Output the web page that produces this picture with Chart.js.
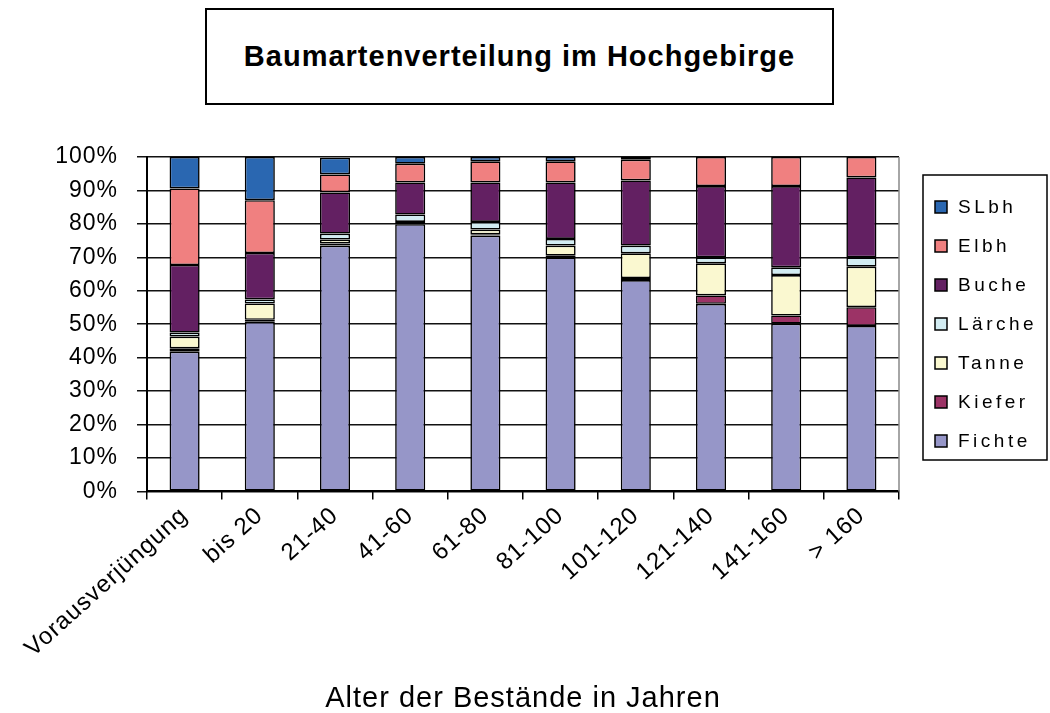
<!DOCTYPE html>
<html>
<head>
<meta charset="utf-8">
<script src="https://cdn.jsdelivr.net/npm/chart.js@4.4.1/dist/chart.umd.min.js"></script>
<style>
  body { margin: 0; background: #fff; }
  #wrap { position: relative; width: 1050px; height: 713px; }
  #titleBox {
    position: absolute; left: 205px; top: 8px; width: 625px; height: 93px;
    border: 2px solid #000; background: #fff;
    font: bold 29px "Liberation Sans", Arial, sans-serif; letter-spacing: 1px;
    display: flex; align-items: center; justify-content: center;
  }
</style>
</head>
<body>
<div id="wrap">
  <canvas id="myChart" width="1050" height="713"></canvas>
  <div id="titleBox">Baumartenverteilung im Hochgebirge</div>
</div>
<script>
// categories (age classes)
const ageClasses = ['Vorausverjüngung', 'bis 20', '21-40', '41-60', '61-80', '81-100', '101-120', '121-140', '141-160', '> 160']

// shares in percent
const fichte = [41.8, 50.7, 73.5, 79.9, 76.5, 70.0, 63.2, 56.1, 50.2, 49.5]
const kiefer = [1.0, 0.6, 0.6, 0.4, 0.4, 0.5, 0.6, 2.5, 2.4, 5.6]
const tanne  = [3.5, 4.9, 1.2, 0.3, 1.4, 3.0, 7.4, 9.6, 12.1, 12.1]
const laerche = [1.2, 1.2, 1.8, 2.2, 2.3, 2.0, 2.3, 1.8, 2.3, 2.8]
const buche  = [20.2, 13.9, 12.3, 9.6, 11.8, 16.9, 19.5, 21.3, 24.3, 23.9]
const elbh   = [22.9, 15.8, 5.4, 5.6, 6.3, 6.3, 6.2, 8.7, 8.7, 6.1]
const slbh   = [9.4, 12.9, 5.0, 2.0, 1.3, 1.3, 0.8, 0, 0, 0]

const yTicks = [0, 10, 20, 30, 40, 50, 60, 70, 80, 90, 100]

const fontFam = '"Liberation Sans", Arial, sans-serif'

const makeSet = (label, data, color) => ({
	label: label,
	data: data,
	backgroundColor: color,
	borderColor: '#000',
	borderWidth: 1.6,
	borderSkipped: false,
	categoryPercentage: 1,
	barPercentage: 0.4
})

let data = {
	labels: ageClasses,
	datasets: [
		makeSet('Fichte', fichte, '#9696c8'),
		makeSet('Kiefer', kiefer, '#9c3366'),
		makeSet('Tanne', tanne, '#faf8d0'),
		makeSet('Lärche', laerche, '#d2ecf2'),
		makeSet('Buche', buche, '#632062'),
		makeSet('Elbh', elbh, '#f08080'),
		makeSet('SLbh', slbh, '#2a67b1')
	]
}

// the old chart's text is set a bit wide
const spacingPlugin = {
	id: 'spacing',
	beforeUpdate(chart) { chart.ctx.letterSpacing = '1px' },
	beforeDraw(chart) { chart.ctx.letterSpacing = '1px' }
}

// legend in a framed box, plus right edge of the plot
const legendPlugin = {
	id: 'boxLegend',
	afterDraw(chart) {
		const c = chart.ctx
		const area = chart.chartArea
		c.save()
		c.strokeStyle = '#888'
		c.lineWidth = 1.5
		c.beginPath()
		c.moveTo(area.right, area.top)
		c.lineTo(area.right, area.bottom)
		c.stroke()

		const bx = area.right + 24, by = 175, bw = 124, bh = 285
		c.strokeStyle = '#000'
		c.lineWidth = 1.5
		c.strokeRect(bx, by, bw, bh)
		c.font = '19px ' + fontFam
		c.letterSpacing = '3.5px'
		c.textBaseline = 'middle'
		c.textAlign = 'left'
		const sets = chart.data.datasets.slice().reverse()
		sets.forEach((ds, i) => {
			const y = by + 32 + i * 39
			c.fillStyle = ds.backgroundColor
			c.fillRect(bx + 12, y - 6, 12, 12)
			c.strokeStyle = '#000'
			c.lineWidth = 1.5
			c.strokeRect(bx + 12, y - 6, 12, 12)
			c.fillStyle = '#000'
			c.fillText(ds.label, bx + 35, y + 1)
		})
		c.restore()
	}
}

let ctx = document.getElementById('myChart').getContext('2d')
let myChart = new Chart(ctx, {
	type: 'bar',
	data: data,
	plugins: [spacingPlugin, legendPlugin],
	options: {
		responsive: false,
		animation: false,
		layout: { padding: { top: 157, right: 151, left: 10, bottom: 0 } },
		plugins: {
			title: { display: false },
			tooltip: { enabled: false },
			legend: { display: false }
		},
		scales: {
			x: {
				stacked: true,
				offset: true,
				grid: { offset: true, drawOnChartArea: false, drawTicks: true, tickLength: 8, color: '#000', lineWidth: 1.5 },
				border: { color: '#000', width: 2 },
				ticks: { color: '#000', font: { family: fontFam, size: 24 }, minRotation: 42, maxRotation: 42, padding: 2 },
				title: { display: true, text: 'Alter der Bestände in Jahren', color: '#000', font: { family: fontFam, size: 29, lineHeight: 1.0 }, padding: { top: 19, bottom: 0 } }
			},
			y: {
				stacked: true,
				min: 0,
				max: 100,
				afterBuildTicks: axis => { axis.ticks = yTicks.map(v => ({ value: v })) },
				afterFit: axis => { axis.width = 137 },
				grid: { color: '#111', lineWidth: 1.5, tickLength: 10 },
				border: { color: '#000', width: 2 },
				ticks: { color: '#000', font: { family: fontFam, size: 23 }, padding: 19, callback: v => v + '%' }
			}
		}
	}
})
</script>
</body>
</html>
